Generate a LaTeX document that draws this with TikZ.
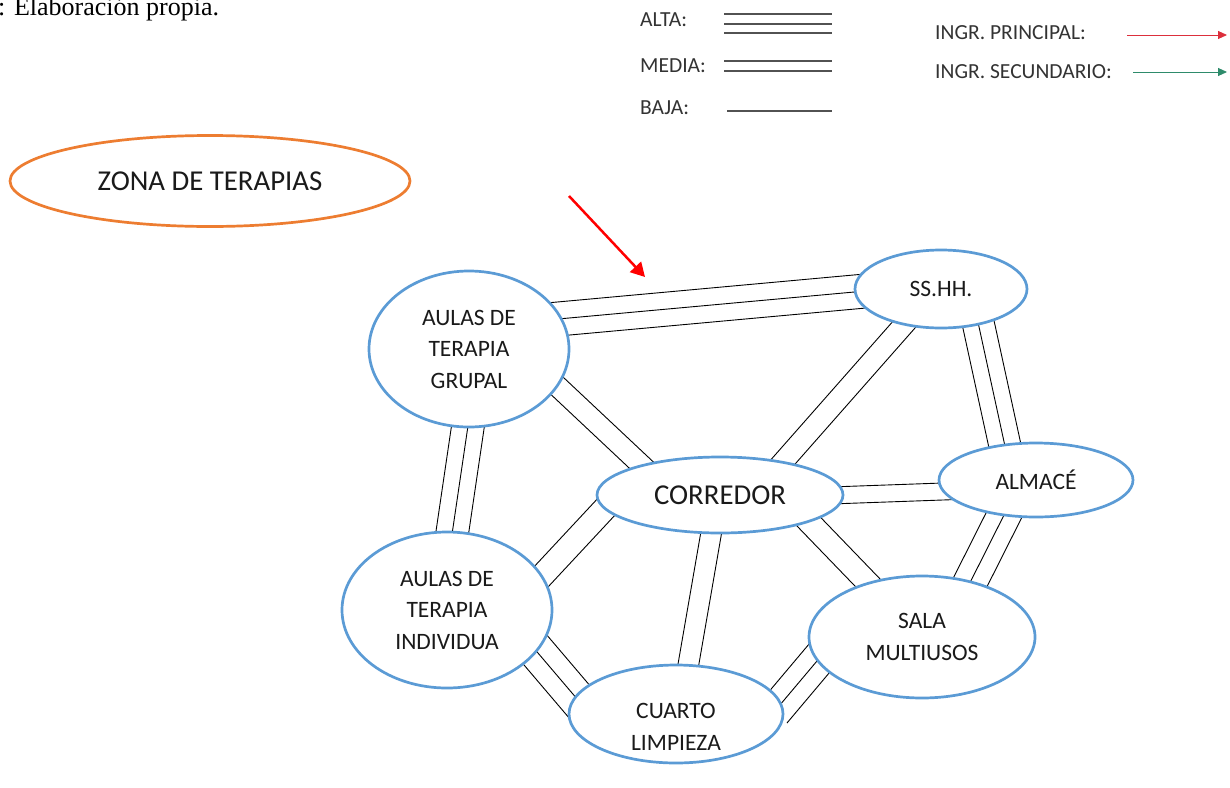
\documentclass[tikz,border=0pt]{standalone}
\usepackage{fontspec}
\setmainfont{Carlito}
\newfontfamily\fuenteserif{Liberation Serif}
\usetikzlibrary{shapes.geometric, calc, arrows.meta, backgrounds}
\definecolor{tzBlue}{HTML}{5B9BD5}
\definecolor{tzOrange}{HTML}{ED7D31}
\definecolor{tzInk}{HTML}{1A1A1A}
\definecolor{tzGray}{HTML}{333333}
\definecolor{tzRed}{HTML}{FF0000}
\definecolor{tzRedT}{HTML}{DC2F3C}
\definecolor{tzGreen}{HTML}{2E8B6B}
\tikzset{
  amb/.style    ={ellipse, draw=tzBlue, line width=2.7pt, fill=white, inner sep=0pt, align=center, text=tzInk, font=\fontsize{23.5}{31.5}\selectfont},
  zona/.style   ={ellipse, draw=tzOrange, line width=2.7pt, fill=white, inner sep=0pt, text=tzInk, font=\fontsize{28.8}{34}\selectfont},
  rot/.style    ={align=center, inner sep=0pt, text=tzInk, font=\fontsize{23.5}{31.5}\selectfont},
  leg/.style    ={anchor=west, inner sep=0pt, text=tzGray, font=\fontsize{21.5}{26}\selectfont},
  enlace/.style ={line width=0.9pt, black, shorten <=-12pt, shorten >=-12pt},
  muestra/.style={line width=1.1pt, tzGray!85},
  ingr/.style   ={-{Triangle[length=14pt,width=15pt]}, line width=2.5pt, tzRed},
}
% relation bundles: three lines (alta), two lines (media)
\newcommand{\alta}[3][17]{%
  \foreach \o in {-#1,0,#1}
    \draw[enlace] ($(#2)!\o*1pt!90:(#3)$) -- ($(#3)!\o*1pt!-90:(#2)$);}
\newcommand{\media}[3][10.5]{%
  \foreach \o in {-#1,#1}
    \draw[enlace] ($(#2)!\o*1pt!90:(#3)$) -- ($(#3)!\o*1pt!-90:(#2)$);}

\begin{document}
\begin{tikzpicture}[x=1pt,y=-1pt]
\useasboundingbox (0,0) rectangle (1230,787);

\node[anchor=base west, inner sep=0pt, font=\fuenteserif\fontsize{26}{30}\selectfont] (fuente) at (-2,15) {: Elaboración propia.};

% ---- legend ----
\node[leg] (lalta)  at (640,20)  {ALTA:};
\node[leg] (lmedia) at (640,66)  {MEDIA:};
\node[leg] (lbaja)  at (640,108) {BAJA:};
\foreach \y in {14,24,33} \draw[muestra] (724,\y) -- (832,\y);
\foreach \y in {61,71} \draw[muestra] (724,\y) -- (832,\y);
\draw[muestra] (727,111) -- (832,111);

\node[leg] (lprin) at (935,33) {INGR. PRINCIPAL:};
\node[leg] (lsec)  at (935,72) {INGR. SECUNDARIO:};
\draw[-{Triangle[length=9pt,width=8pt]}, line width=0.9pt, tzRedT] (1127,35) -- (1227,35);
\draw[-{Triangle[length=9pt,width=8pt]}, line width=0.9pt, tzGreen] (1133,72) -- (1227,72);

% ---- zone ----
\node[zona, minimum width=400pt, minimum height=91pt] (zona) at (210,181) {ZONA DE TERAPIAS};

% ---- rooms ----
\node[amb, minimum width=200pt, minimum height=156pt] (grupal) at (469,349) {AULAS DE\\TERAPIA\\GRUPAL};
\node[amb, minimum width=172pt, minimum height=78pt]  (sshh)   at (941,289) {SS.HH.};
\node[amb, minimum width=194pt, minimum height=74pt]  (almace) at (1036,480) {ALMACÉ};
\node[amb, minimum width=246pt, minimum height=76pt, font=\fontsize{28.8}{34}\selectfont] (corr) at (720,495) {CORREDOR};
\node[amb, minimum width=210pt, minimum height=156pt] (indiv)  at (447,610) {AULAS DE\\TERAPIA\\INDIVIDUA};
\node[amb, minimum width=214pt, minimum height=98pt]  (cuarto) at (676,714) {};
\node[rot] (tcuarto) at (676,727) {CUARTO\\LIMPIEZA};
\node[amb, minimum width=226pt, minimum height=122pt] (sala)   at (922,637) {SALA\\MULTIUSOS};

% main entrance
\coordinate (ingA) at (569,196);
\coordinate (ingB) at (645,277);
\draw[ingr] (ingA) -- (ingB);

% ---- relations (behind the rooms) ----
\begin{scope}[on background layer]
\alta{grupal.18.4}{sshh.182}
\media{grupal.-23.8}{corr.159}
\alta[16.3]{grupal.-91.5}{indiv.86.3}
\media{sshh.-136.1}{corr.28.7}
\alta[16]{sshh.-44.2}{almace.131.4}
\media[8.5]{corr.0}{almace.187.1}
\media[12]{corr.187.4}{indiv.20.4}
\media[10.3]{corr.-103}{cuarto.76.6}
\media[11.5]{corr.-17.7}{sala.135.8}
\alta{almace.-132.3}{sala.49.4}
\alta[18.4]{indiv.-25.5}{cuarto.170.2}
\alta{cuarto.6.3}{sala.193.6}
\end{scope}
\end{tikzpicture}
\end{document}
